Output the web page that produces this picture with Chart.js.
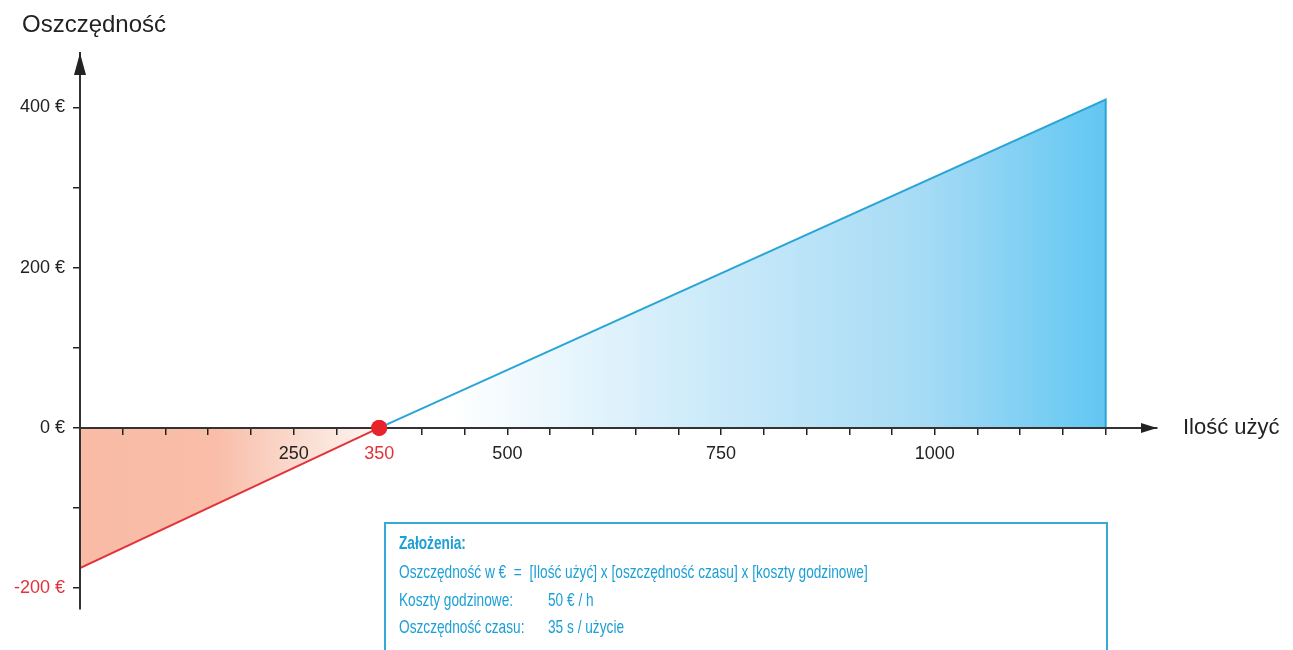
<!DOCTYPE html>
<html>
<head>
<meta charset="utf-8">
<script src="https://cdn.jsdelivr.net/npm/chart.js@4"></script>
<style>
  body { margin: 0; background: #fff; font-family: "Liberation Sans", Arial, sans-serif; }
  #wrap { position: relative; width: 1293px; height: 650px; overflow: hidden; }
  .lbl { position: absolute; color: #222; }
  #box { position: absolute; left: 384px; top: 522px; width: 720px; height: 160px;
         border: 2px solid #35a9d9; color: #1b9fd6; font-size: 19px; }
  #box div { position: absolute; white-space: pre; transform: scaleX(0.72); transform-origin: left center; }
</style>
</head>
<body>
<div id="wrap">
  <canvas id="myChart" width="1293" height="650"></canvas>
  <div class="lbl" style="left:22px; top:10px; font-size:24px;">Oszczędność</div>
  <div class="lbl" style="left:1183px; top:414px; font-size:22px;">Ilość użyć</div>
  <div id="box">
    <div style="left:13px; top:8px; font-weight:bold;">Założenia:</div>
    <div style="left:13px; top:37px;">Oszczędność w €  =  [Ilość użyć] x [oszczędność czasu] x [koszty godzinowe]</div>
    <div style="left:13px; top:65px;">Koszty godzinowe:</div>
    <div style="left:162px; top:65px;">50 € / h</div>
    <div style="left:13px; top:92px;">Oszczędność czasu:</div>
    <div style="left:162px; top:92px;">35 s / użycie</div>
  </div>
</div>
<script>
// data
var lossUses = [0, 350];
var lossValues = [-175, 0];
var gainUses = [350, 1200, 1200];
var gainValues = [0, 410, 0];
var breakEven = [350];
var xTicks = [];
for (var t = 0; t <= 1200; t += 50) xTicks.push(t);
var xLabels = { 250: "250", 350: "350", 500: "500", 750: "750", 1000: "1000" };
var yTicks = [-200, -100, 0, 100, 200, 300, 400];
var yLabels = { "-200": "-200 €", 0: "0 €", 200: "200 €", 400: "400 €" };

function pts(xs, ys) {
  return xs.map(function (x, i) { return { x: x, y: ys[i] }; });
}

function redFill(context) {
  var chart = context.chart;
  if (!chart.chartArea) return "#f9bba6";
  var x = chart.scales.x;
  var g = chart.ctx.createLinearGradient(x.getPixelForValue(0), 0, x.getPixelForValue(350), 0);
  g.addColorStop(0, "#f9bba6");
  g.addColorStop(0.45, "#f9bda8");
  g.addColorStop(0.8, "#fbe2d8");
  g.addColorStop(1, "#fef6f3");
  return g;
}

function blueFill(context) {
  var chart = context.chart;
  if (!chart.chartArea) return "#6fcbf3";
  var x = chart.scales.x;
  var g = chart.ctx.createLinearGradient(x.getPixelForValue(350), 0, x.getPixelForValue(1200), 0);
  g.addColorStop(0, "#ffffff");
  g.addColorStop(0.1, "#ffffff");
  g.addColorStop(0.42, "#d0ecfa");
  g.addColorStop(0.75, "#a6dbf5");
  g.addColorStop(1, "#62c7f2");
  return g;
}

// arrow heads at the axis ends, and the break-even dot on top of the axis
var arrows = {
  id: "arrows",
  afterDraw: function (chart) {
    var c = chart.ctx, a = chart.chartArea;
    var y0 = chart.scales.y.getPixelForValue(0);
    c.save();
    c.fillStyle = "#222";
    c.beginPath();
    c.moveTo(a.left, a.top);
    c.lineTo(a.left - 6, a.top + 22);
    c.lineTo(a.left + 6, a.top + 22);
    c.closePath();
    c.fill();
    c.beginPath();
    c.moveTo(a.right, y0);
    c.lineTo(a.right - 16, y0 - 5);
    c.lineTo(a.right - 16, y0 + 5);
    c.closePath();
    c.fill();
    c.restore();
    chart.getDatasetMeta(2).controller.draw();
  }
};

var ctx = document.getElementById("myChart");
var myChart = new Chart(ctx, {
  type: "line",
  data: {
    datasets: [
      {
        data: pts(lossUses, lossValues),
        borderColor: "#e2323a",
        borderWidth: 2,
        backgroundColor: redFill,
        fill: "origin",
        pointRadius: 0
      },
      {
        data: pts(gainUses, gainValues),
        borderColor: "#2aa5d6",
        borderWidth: 2,
        backgroundColor: blueFill,
        fill: "origin",
        pointRadius: 0
      },
      {
        data: pts(breakEven, [0]),
        showLine: false,
        pointRadius: 8,
        pointBackgroundColor: "#e8232b",
        pointBorderWidth: 0
      }
    ]
  },
  options: {
    responsive: false,
    animation: false,
    layout: { padding: { top: 53, bottom: 41, right: 136, left: 0 } },
    plugins: { legend: { display: false }, tooltip: { enabled: false } },
    scales: {
      x: {
        type: "linear",
        min: 0,
        max: 1260,
        position: { y: 0 },
        afterBuildTicks: function (s) { s.ticks = xTicks.map(function (v) { return { value: v }; }); },
        grid: { z: 1, drawOnChartArea: false, drawTicks: true, tickLength: 6, lineWidth: 1.5,
                color: function (c) { return c.tick && c.tick.value === 0 ? "rgba(0,0,0,0)" : "#222"; } },
        border: { z: 1, display: true, color: "#333", width: 2 },
        ticks: {
          z: 1,
          autoSkip: false,
          maxRotation: 0,
          padding: 9,
          font: { family: "Liberation Sans", size: 18 },
          color: function (c) { return c.tick && c.tick.value === 350 ? "#e2323a" : "#222"; },
          callback: function (v) { return xLabels[v] || ""; }
        }
      },
      y: {
        type: "linear",
        min: -226,
        max: 468,
        afterFit: function (s) { s.width = 80; },
        afterBuildTicks: function (s) { s.ticks = yTicks.map(function (v) { return { value: v }; }); },
        grid: { drawOnChartArea: false, drawTicks: true, tickLength: 7, color: "#222", lineWidth: 1.5 },
        border: { z: 1, display: true, color: "#333", width: 2 },
        ticks: {
          autoSkip: false,
          padding: 8,
          font: { family: "Liberation Sans", size: 18 },
          color: function (c) { return c.tick && c.tick.value < 0 ? "#e2323a" : "#222"; },
          callback: function (v) { return yLabels[v] || ""; }
        }
      }
    }
  },
  plugins: [arrows]
});
</script>
</body>
</html>
